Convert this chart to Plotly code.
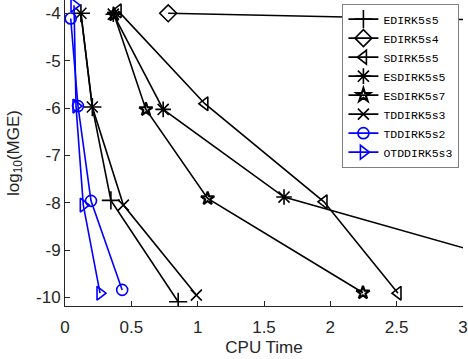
import plotly.graph_objects as go

# CPU time (x) and log10(MGE) (y) for each method
edirk5s5_x = [0.12, 0.206, 0.346, 0.853]
edirk5s5_y = [-4.0, -5.98, -7.95, -10.09]

edirk5s4_x = [0.778, 6.0]
edirk5s4_y = [-4.0, -4.31]

sdirk5s5_x = [0.40, 1.054, 1.952, 2.51]
sdirk5s5_y = [-3.95, -5.91, -7.98, -9.91]

esdirk5s5_x = [0.364, 0.74, 1.651, 4.3]
esdirk5s5_y = [-4.02, -6.03, -7.88, -9.98]

esdirk5s7_x = [0.37, 0.61, 1.075, 2.246]
esdirk5s7_y = [-4.03, -6.03, -7.91, -9.90]

tddirk5s3_x = [0.12, 0.206, 0.44, 0.99]
tddirk5s3_y = [-4.0, -5.98, -8.05, -9.95]

tddirk5s2_x = [0.043, 0.098, 0.196, 0.431]
tddirk5s2_y = [-4.11, -5.96, -7.96, -9.84]

otddirk5s3_x = [0.068, 0.083, 0.138, 0.264]
otddirk5s3_y = [-3.83, -5.96, -8.05, -9.91]

series = [
    ("EDIRK5s5", edirk5s5_x, edirk5s5_y, "cross-thin-open", "black", 13),
    ("EDIRK5s4", edirk5s4_x, edirk5s4_y, "diamond-open", "black", 13),
    ("SDIRK5s5", sdirk5s5_x, sdirk5s5_y, "triangle-left-open", "black", 12),
    ("ESDIRK5s5", esdirk5s5_x, esdirk5s5_y, "asterisk-open", "black", 13),
    ("ESDIRK5s7", esdirk5s7_x, esdirk5s7_y, "star-open", "black", 10),
    ("TDDIRK5s3", tddirk5s3_x, tddirk5s3_y, "x-thin-open", "black", 11),
    ("TDDIRK5s2", tddirk5s2_x, tddirk5s2_y, "circle-open", "blue", 11),
    ("OTDDIRK5s3", otddirk5s3_x, otddirk5s3_y, "triangle-right-open", "blue", 12),
]

fig = go.Figure()
for name, xs, ys, symbol, color, size in series:
    fig.add_trace(go.Scatter(
        x=xs, y=ys, name=name, mode="lines+markers",
        line=dict(color=color, width=1.6),
        marker=dict(symbol=symbol, size=size, color=color,
                    line=dict(color=color, width=2.2 if symbol == "star-open" else 1.6)),
    ))

axis_common = dict(
    showgrid=False, zeroline=False,
    showline=True, linecolor="#262626", linewidth=1,
    ticks="inside", ticklen=5, tickcolor="#262626",
    tickfont=dict(size=17, color="#262626"),
    ticklabeloverflow="allow",
    mirror=False,
)

fig.update_xaxes(
    range=[0, 3], tickvals=[0, 0.5, 1, 1.5, 2, 2.5, 3],
    ticktext=["0", "0.5", "1", "1.5", "2", "2.5", "3"],
    ticklabelstandoff=6,
    title=dict(text="CPU Time", font=dict(size=17, color="#262626"), standoff=4),
    **axis_common,
)
fig.update_yaxes(
    range=[-10.18, -3.72], tickvals=[-10, -9, -8, -7, -6, -5, -4],
    ticktext=["-10", "-9", "-8", "-7", "-6", "-5", "-4"],
    title=dict(text="log<sub>10</sub>(MGE)", font=dict(size=17, color="#262626"), standoff=12),
    **axis_common,
)

fig.update_layout(
    width=468, height=359,
    margin=dict(l=65, r=5, t=0, b=53),
    plot_bgcolor="white", paper_bgcolor="white",
    font=dict(family="Liberation Sans, Arial, sans-serif", color="#262626"),
    legend=dict(
        x=0.697, y=0.988, xanchor="left", yanchor="top",
        bgcolor="white", bordercolor="#7f7f7f", borderwidth=1,
        font=dict(family="Liberation Mono, monospace", size=11.5, color="black"),
        itemwidth=30, tracegroupgap=0,
    ),
)

fig.write_html(
    "out.html",
    config={"displayModeBar": False},
    post_script="document.body.style.margin = '0';",
)
